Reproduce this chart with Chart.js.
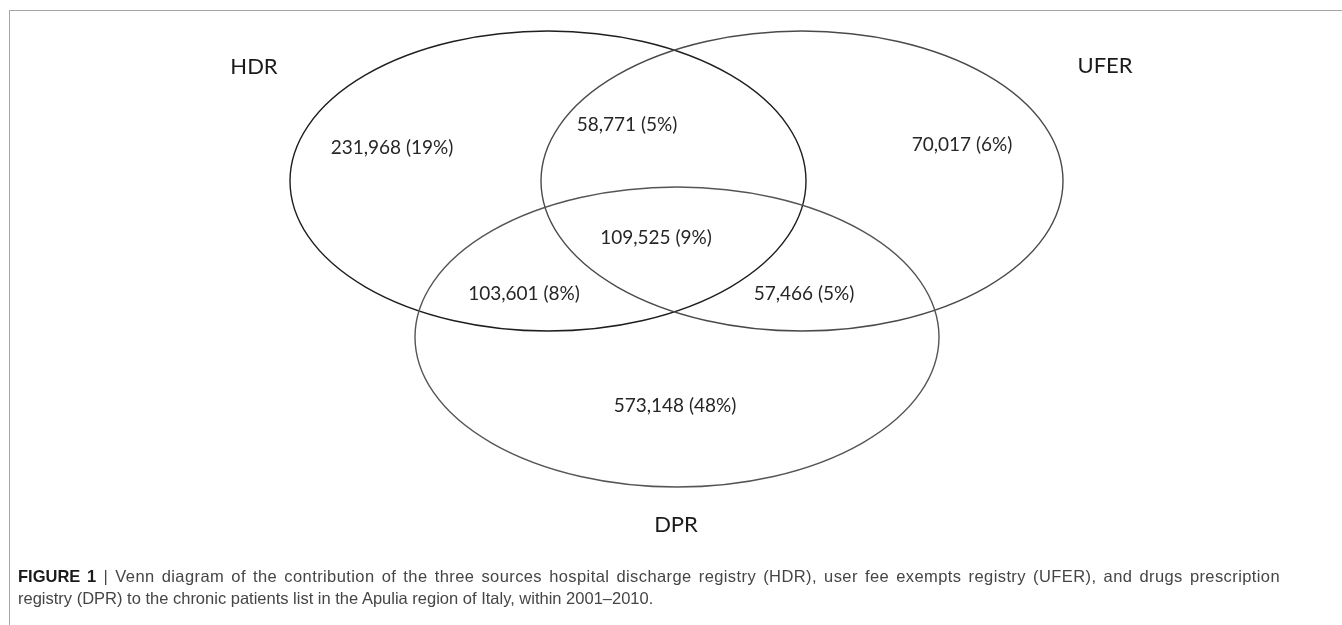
<!DOCTYPE html>
<html>
<head>
<meta charset="utf-8">
<script src="https://cdn.jsdelivr.net/npm/chart.js@4/dist/chart.umd.min.js"></script>
<style>
  html, body { margin: 0; padding: 0; background: #fff; }
  #wrap { position: relative; width: 1342px; height: 625px; overflow: hidden; }
  #frame { position: absolute; left: 9px; top: 10px; right: -2px; bottom: -2px;
    border-top: 1.5px solid #a6a6a6; border-left: 1.5px solid #a6a6a6; }
  #venn { position: absolute; left: 0; top: 0; }
  #caption { position: absolute; left: 18px; top: 565px; width: 1262px;
    font-family: "Liberation Sans", Arial, sans-serif; font-size: 16.5px; line-height: 22px; color: #454545; }
  #caption .l1 { text-align: justify; text-align-last: justify; letter-spacing: 0.4px; }
  #caption b { color: #1a1a1a; letter-spacing: 0; }
</style>
</head>
<body>
<div id="wrap">
  <div id="frame"></div>
  <canvas id="venn" width="1342" height="625"></canvas>
  <div id="caption">
    <div class="l1"><b>FIGURE 1</b> | Venn diagram of the contribution of the three sources hospital discharge registry (HDR), user fee exempts registry (UFER), and drugs prescription</div>
    <div>registry (DPR) to the chronic patients list in the Apulia region of Italy, within 2001–2010.</div>
  </div>
</div>
<script>
  // data
  let set_names = ["HDR", "UFER", "DPR"];
  let region_names = ["HDR only", "HDR+UFER", "UFER only", "HDR+UFER+DPR", "HDR+DPR", "UFER+DPR", "DPR only"];
  let region_counts = [231968, 58771, 70017, 109525, 103601, 57466, 573148];
  let region_percents = [19, 5, 6, 9, 8, 5, 48];

  // layout (in axis units, the axes span the canvas)
  const ellipses = [
    { cx: 548, cy: 181, rx: 258, ry: 150, color: "#1e1e1e" },
    { cx: 802, cy: 181, rx: 261, ry: 150, color: "#4a4a4a" },
    { cx: 677, cy: 337, rx: 262, ry: 150, color: "#555555" },
  ];
  const set_label_pos = [{ x: 254, y: 67 }, { x: 1105, y: 66 }, { x: 676, y: 525 }];
  const region_label_pos = [
    { x: 392, y: 148 }, { x: 627, y: 125 }, { x: 962, y: 145 }, { x: 656, y: 238 },
    { x: 524, y: 294 }, { x: 804, y: 294 }, { x: 675, y: 406 },
  ];

  const fmt = (n, p) => n.toLocaleString("en-US") + " (" + p + "%)";

  const vennPlugin = {
    id: "venn",
    beforeDatasetsDraw(chart) {
      const { ctx, scales: { x, y } } = chart;
      ctx.save();
      ellipses.forEach((e) => {
        const px = x.getPixelForValue(e.cx);
        const py = y.getPixelForValue(e.cy);
        const rx = Math.abs(x.getPixelForValue(e.cx + e.rx) - px);
        const ry = Math.abs(y.getPixelForValue(e.cy + e.ry) - py);
        ctx.beginPath();
        ctx.ellipse(px, py, rx, ry, 0, 0, Math.PI * 2);
        ctx.strokeStyle = e.color;
        ctx.lineWidth = 1.4;
        ctx.stroke();
      });
      ctx.restore();
    },
    afterDatasetsDraw(chart) {
      const { ctx } = chart;
      ctx.save();
      ctx.textAlign = "center";
      ctx.textBaseline = "middle";
      chart.data.datasets.forEach((ds, i) => {
        const meta = chart.getDatasetMeta(i);
        ctx.font = ds.labelFont;
        ctx.fillStyle = ds.labelColor;
        meta.data.forEach((pt, j) => {
          ctx.fillText(ds.texts[j], pt.x, pt.y);
        });
      });
      ctx.restore();
    },
  };

  const chart_element = document.getElementById("venn").getContext("2d");
  const vennChart = new Chart(chart_element, {
    type: "scatter",
    data: {
      datasets: [
        {
          label: "sets",
          data: set_label_pos,
          texts: set_names,
          labelFont: "22px Lato",
          labelColor: "#1a1a1a",
          pointRadius: 0,
        },
        {
          label: "regions",
          data: region_label_pos,
          texts: region_counts.map((c, i) => fmt(c, region_percents[i])),
          labelFont: "19px Lato",
          labelColor: "#262626",
          pointRadius: 0,
        },
      ],
    },
    options: {
      responsive: false,
      animation: false,
      layout: { padding: 0 },
      plugins: { legend: { display: false }, tooltip: { enabled: false } },
      scales: {
        x: { type: "linear", min: 0, max: 1342, display: false },
        y: { type: "linear", min: 0, max: 625, reverse: true, display: false },
      },
    },
    plugins: [vennPlugin],
  });
</script>
</body>
</html>
